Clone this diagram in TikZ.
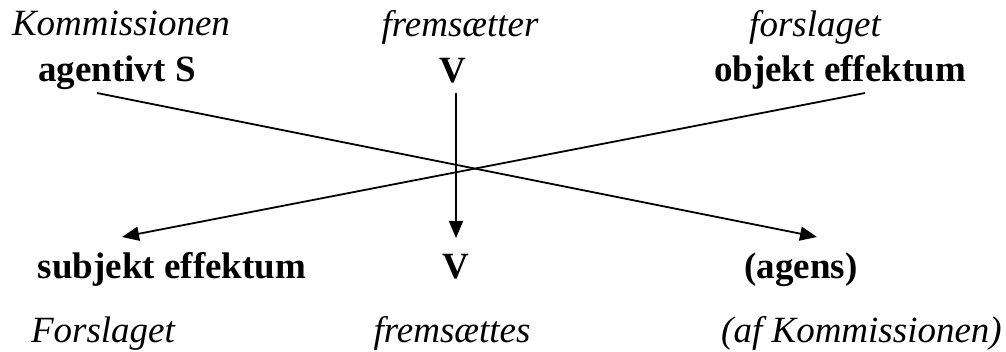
\documentclass[tikz,border=0pt]{standalone}
\usepackage{fontspec}
\setmainfont{Liberation Serif}
\usetikzlibrary{arrows.meta}
\tikzset{
  lbl/.style={inner sep=0pt, anchor=base, font=\fontsize{37}{40}\selectfont\itshape},
  cat/.style={inner sep=0pt, anchor=base, font=\fontsize{37}{40}\selectfont\bfseries},
  conn/.style={line width=1.8pt, -{Triangle[length=17pt,width=14pt]}}
}
\begin{document}
\begin{tikzpicture}[x=1pt,y=-1pt]
\useasboundingbox (0,0) rectangle (1006,352);
% top rows
\node[lbl] (kom) at (121,36) {Kommissionen};
\node[lbl] (frt) at (460,37) {fremsætter};
\node[lbl] (fsl) at (815,37) {forslaget};
\node[cat] (ags) at (117,82) {agentivt S};
\node[cat] (v1) at (453,83) {V};
\node[cat] (obj) at (840,82) {objekt effektum};
% bottom rows
\node[cat] (sub) at (172,279) {subjekt effektum};
\node[cat] (v2) at (456,279) {V};
\node[cat] (agn) at (801,279) {(agens)};
\node[lbl] (Fsl) at (103,343) {Forslaget};
\node[lbl] (fts) at (452,343) {fremsættes};
\node[lbl, anchor=base east] (afk) at (1002,343) {(af Kommissionen)};
% connector ends
\coordinate (a1) at (97,93);
\coordinate (a2) at (817,237);
\coordinate (b1) at (865,93);
\coordinate (b2) at (122,237);
\coordinate (c1) at (456,93);
\coordinate (c2) at (456,238);
\draw[conn] (a1) -- (a2);
\draw[conn] (b1) -- (b2);
\draw[conn] (c1) -- (c2);
\end{tikzpicture}
\end{document}
